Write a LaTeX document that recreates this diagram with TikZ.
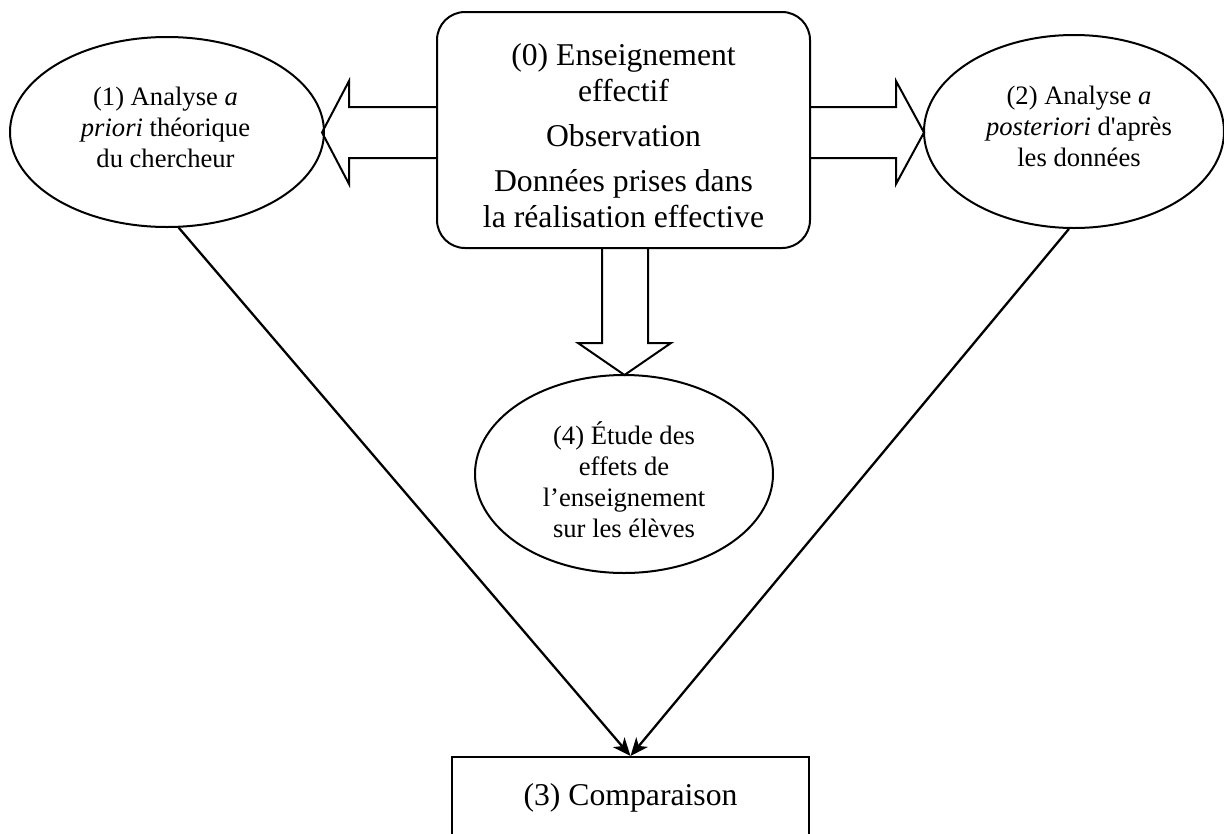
\documentclass[tikz,border=0pt]{standalone}
\usepackage{fontspec}
\setmainfont{Liberation Serif}[Ligatures=TeXOff]
\usetikzlibrary{shapes.geometric,arrows.meta}
\begin{document}
\begin{tikzpicture}[x=1pt,y=-1pt,line width=2pt,
  bigtxt/.style={font=\fontsize{31.7}{36}\selectfont,align=center,inner sep=0pt},
  smalltxt/.style={font=\fontsize{26.6}{31}\selectfont,align=center,inner sep=0pt},
  oval/.style={draw,ellipse,inner sep=0pt},
  blockarrow/.style={draw,line join=miter},
  conn/.style={-{Stealth[length=18pt,width=15pt,inset=5pt]},line width=2.3pt}]
\clip (0,0) rectangle (1224,833);
% main box
\node[draw,rounded corners=28pt,minimum width=373pt,minimum height=236pt,inner sep=0pt] (b0) at (623.5,130) {};
\node[bigtxt] (t0) at (623.5,136) {(0) Enseignement\\effectif\\[9pt]Observation\\[9pt]Données prises dans\\la réalisation effective};
% ellipses
\node[oval,minimum width=314pt,minimum height=190pt] (e1) at (167,132) {};
\node[smalltxt] (t1) at (165.5,127) {(1) Analyse \textit{a}\\\textit{priori} théorique\\du chercheur};
\node[oval,minimum width=300pt,minimum height=193pt] (e2) at (1074,131.5) {};
\node[smalltxt] (t2) at (1079,126) {(2) Analyse \textit{a}\\\textit{posteriori} d'après\\les données};
\node[oval,minimum width=298pt,minimum height=198pt] (e4) at (624,474) {};
\node[smalltxt] (t4) at (624,480) {(4) Étude des\\effets de\\l’enseignement\\sur les élèves};
% comparison box
\node[draw,bigtxt,minimum width=357pt,minimum height=81pt] (b3) at (630.5,797.5) {(3) Comparaison};
% block arrows
\draw[blockarrow] (437,107) -- (349,107) -- (349,81) -- (322,132.5) -- (349,184) -- (349,158) -- (437,158);
\draw[blockarrow] (810,107) -- (896,107) -- (896,81) -- (924,132.5) -- (896,184) -- (896,158) -- (810,158);
\draw[blockarrow] (602,248) -- (602,343) -- (578,343) -- (624.5,375) -- (671,343) -- (648,343) -- (648,248);
% connectors
\draw[conn] (e1.-83.4) -- (b3.north);
\draw[conn] (e2.-93.6) -- (b3.north);
\end{tikzpicture}
\end{document}
